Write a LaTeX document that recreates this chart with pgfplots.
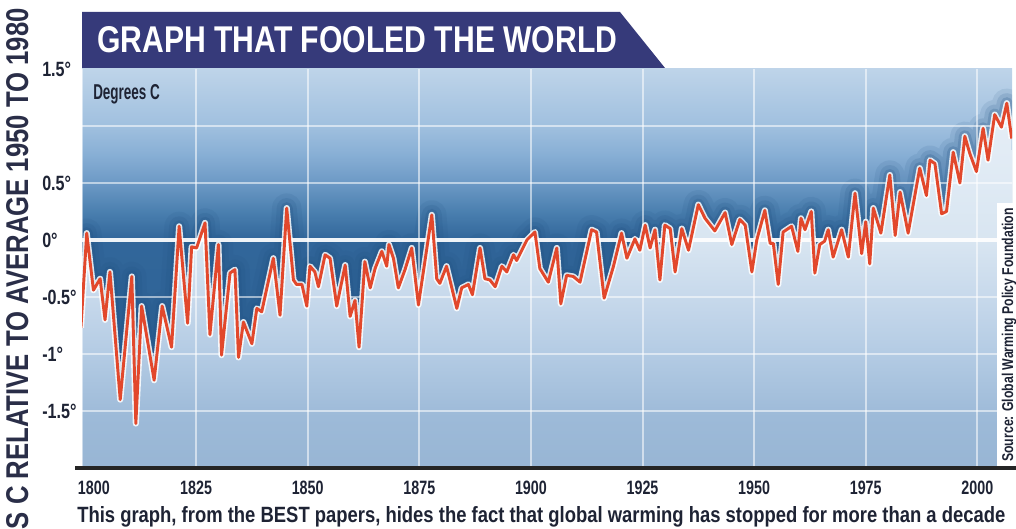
\documentclass[border=0pt]{standalone}
\usepackage{pgfplots}
\pgfplotsset{compat=1.18}
\usepackage{pgfplotstable}
\usepackage{graphicx}
\usepackage{fontspec}
\setmainfont{Liberation Sans}

\definecolor{banner}{HTML}{363A7A}
\definecolor{ink}{HTML}{1E2334}
\definecolor{ytitle}{HTML}{2A2E48}
\definecolor{redline}{HTML}{E2482C}
\definecolor{glow}{HTML}{1F4F80}
\definecolor{axisline}{HTML}{252525}
\definecolor{bgA}{HTML}{2D6293}
\definecolor{bgB}{HTML}{31669A}
\definecolor{bgC}{HTML}{4A7FAF}
\definecolor{bgD}{HTML}{6C99C5}
\definecolor{bgE}{HTML}{88AFD5}
\definecolor{bgF}{HTML}{A0C0DF}
\definecolor{bgG}{HTML}{BED4E9}
\definecolor{uA}{HTML}{97B5D4}
\definecolor{uB}{HTML}{9DBAD8}
\definecolor{uC}{HTML}{B2CAE3}
\definecolor{uD}{HTML}{C6D8EB}
\definecolor{uE}{HTML}{D8E5F1}
\definecolor{uF}{HTML}{DFEAF4}
\definecolor{uG}{HTML}{E6EEF6}

\pgfdeclareverticalshading{bgshade}{100bp}{color(0bp)=(bgA); color(25bp)=(bgA); color(53.6bp)=(bgB); color(57.1bp)=(bgC); color(60.7bp)=(bgD); color(64.3bp)=(bgE); color(67.9bp)=(bgF); color(75bp)=(bgG); color(100bp)=(bgG)}
\pgfdeclareverticalshading{undershade}{100bp}{color(0bp)=(uA); color(25bp)=(uA); color(32.8bp)=(uB); color(40.6bp)=(uC); color(48.4bp)=(uD); color(56.25bp)=(uE); color(64.1bp)=(uF); color(75bp)=(uG); color(100bp)=(uG)}

\newcommand\xl[1]{\scalebox{0.74}[1]{#1}}
\newcommand\yl[1]{\scalebox{0.78}[1]{#1}}

\pgfplotstableread{
year anom
1799.2 -0.77
1800.5 0.06
1802.0 -0.44
1803.5 -0.34
1804.6 -0.70
1805.7 -0.28
1808.0 -1.40
1810.6 -0.32
1811.5 -1.61
1812.8 -0.58
1815.6 -1.23
1817.4 -0.58
1819.5 -0.94
1821.2 0.12
1823.1 -0.73
1824.0 -0.06
1825.1 -0.07
1827.0 0.15
1828.1 -0.83
1830.0 -0.04
1830.7 -1.01
1832.6 -0.29
1833.7 -0.26
1834.5 -1.03
1835.6 -0.72
1837.5 -0.91
1838.6 -0.60
1839.7 -0.63
1842.3 -0.16
1843.8 -0.66
1845.3 0.28
1846.8 -0.35
1847.5 -0.39
1848.7 -0.39
1849.8 -0.58
1850.5 -0.23
1851.6 -0.28
1852.4 -0.41
1853.9 -0.13
1855.0 -0.16
1856.5 -0.58
1858.4 -0.22
1859.5 -0.67
1860.6 -0.53
1861.5 -0.94
1862.8 -0.19
1864.0 -0.42
1865.1 -0.25
1866.6 -0.10
1867.7 -0.23
1868.2 -0.04
1869.2 -0.16
1870.3 -0.42
1871.8 -0.26
1873.3 -0.07
1874.8 -0.57
1877.8 0.22
1878.9 -0.34
1879.6 -0.38
1881.1 -0.23
1883.4 -0.60
1884.5 -0.42
1886.0 -0.39
1886.9 -0.48
1888.6 -0.07
1889.7 -0.34
1890.8 -0.35
1892.0 -0.41
1893.5 -0.23
1894.6 -0.28
1896.1 -0.13
1896.8 -0.18
1899.1 0.00
1900.9 0.07
1902.0 -0.25
1903.9 -0.37
1905.8 -0.07
1906.7 -0.56
1908.0 -0.31
1909.5 -0.32
1911.0 -0.37
1913.6 0.09
1914.7 0.07
1916.4 -0.51
1918.5 -0.23
1920.3 0.06
1921.5 -0.16
1923.3 0.01
1924.4 -0.09
1925.6 0.13
1926.7 -0.07
1927.8 0.09
1928.9 -0.35
1930.0 0.13
1931.2 0.10
1932.3 -0.28
1933.8 0.10
1935.3 -0.09
1937.5 0.31
1939.0 0.19
1941.2 0.08
1943.5 0.24
1945.0 -0.04
1946.8 0.18
1948.0 0.13
1949.5 -0.28
1950.6 0.00
1952.4 0.26
1953.6 -0.03
1954.3 -0.03
1955.4 -0.39
1956.5 0.07
1958.4 0.12
1959.8 -0.10
1960.5 0.19
1961.4 0.09
1962.8 0.25
1963.6 -0.29
1964.7 -0.04
1965.8 -0.01
1966.6 0.09
1967.7 -0.15
1969.6 0.09
1971.1 -0.15
1972.6 0.41
1974.1 -0.12
1975.0 0.16
1975.9 -0.21
1976.7 0.28
1978.4 0.06
1980.4 0.57
1981.6 0.04
1982.7 0.42
1984.5 0.06
1987.1 0.63
1988.6 0.39
1989.4 0.70
1990.5 0.67
1992.0 0.23
1993.1 0.25
1994.6 0.77
1996.1 0.50
1997.2 0.91
1998.3 0.76
1999.8 0.60
2001.3 0.98
2002.4 0.70
2003.9 1.10
2005.4 0.99
2006.6 1.20
2007.7 0.89
}\tempdata

\begin{document}
\begin{tikzpicture}
\path[use as bounding box] (0,0) rectangle (762pt,396pt);
\begin{axis}[
  at={(61.5pt,45pt)}, anchor=south west,
  width=697.5pt, height=299.25pt, scale only axis,
  xmin=1799.44, xmax=2007.77, ymin=-2, ymax=1.5,
  axis line style={draw=none},
  tick style={draw=none},
  axis background/.style={shading=bgshade},
  xtick={1800,1825,1850,1875,1900,1925,1950,1975,2000},
  xticklabels={\hspace*{14pt}\xl{1800},\xl{1825},\xl{1850},\xl{1875},\xl{1900},\xl{1925},\xl{1950},\xl{1975},\xl{2000}},
  xticklabel style={font=\fontsize{14.5}{15}\selectfont\bfseries, text=ink, yshift=-6.5pt},
  ytick={-1.5,-1,-0.5,0,0.5,1.5},
  yticklabels={\yl{-1.5°},\yl{-1°},\yl{-0.5°},\yl{0°},\yl{0.5°},\yl{1.5°}},
  yticklabel style={font=\fontsize{15.5}{16}\selectfont\bfseries, text=ink, anchor=west, inner sep=0pt, xshift=-30pt},
  clip=true,
]
% soft dark glow above the line
\addplot[draw=glow, opacity=0.10, line width=22pt, line join=round] table[x=year,y=anom] {\tempdata};
\addplot[draw=glow, opacity=0.14, line width=15pt, line join=round] table[x=year,y=anom] {\tempdata};
\addplot[draw=glow, opacity=0.22, line width=9pt, line join=round] table[x=year,y=anom] {\tempdata};
% light area below the line
\addplot[draw=none, shading=undershade] table[x=year,y=anom] {\tempdata} -- (axis cs:2008,-2.05) -- (axis cs:1799,-2.05) -- cycle;
% grid
\pgfplotsinvokeforeach{1825,1850,1875,1900,1925,1950,1975,2000}{
  \draw[white, opacity=0.55, line width=1.5pt] (axis cs:#1,-2) -- (axis cs:#1,1.5);
}
\pgfplotsinvokeforeach{-1.5,-1,-0.5,0.5,1}{
  \draw[white, opacity=0.55, line width=1.5pt] (axis cs:1799,#1) -- (axis cs:2008,#1);
}
\draw[white, opacity=0.92, line width=2.6pt] (axis cs:1799,0) -- (axis cs:2008,0);
\draw[white, opacity=0.5, line width=1.2pt] (axis cs:1799.5,-2) -- (axis cs:1799.5,1.5);
% the series
\addplot[draw=white, opacity=0.85, line width=4.6pt, line join=round] table[x=year,y=anom] {\tempdata};
\addplot[draw=redline, line width=2.2pt, line join=round] table[x=year,y=anom] {\tempdata};
\end{axis}
% bottom axis line
\draw[axisline, line width=2.3pt] (56.25pt,45pt) -- (762pt,45pt);
% banner
\fill[banner] (61.5pt,387pt) -- (465pt,387pt) -- (498.75pt,345pt) -- (61.5pt,345pt) -- cycle;
\node[anchor=base west, inner sep=0pt, text=white] at (72.75pt,356.25pt)
  {\resizebox{390pt}{19.5pt}{\bfseries GRAPH THAT FOOLED THE WORLD}};
% Degrees C
\node[anchor=base west, inner sep=0pt, text=ink] at (69.75pt,321pt)
  {\resizebox{50pt}{11.25pt}{\bfseries Degrees C}};
% source box
\fill[white] (747.75pt,46.5pt) rectangle (762pt,243.75pt);
\node[rotate=90, anchor=base west, inner sep=0pt, text=ink] at (759.75pt,49.5pt)
  {\resizebox{190pt}{8.5pt}{\bfseries Source: Global Warming Policy Foundation}};
% caption
\node[anchor=base west, inner sep=0pt, text=ink] at (57.75pt,4.5pt)
  {\resizebox{696pt}{12pt}{\bfseries This graph, from the BEST papers, hides the fact that global warming has stopped for more than a decade}};
% y title (cut at the page edge, as in the original)
\begin{scope}
\clip (0,0) rectangle (762pt,396pt);
\node[rotate=90, anchor=base east, inner sep=0pt, text=ytitle] at (21pt,390pt)
  {\resizebox{472pt}{16.5pt}{\bfseries DEGREES C RELATIVE TO AVERAGE 1950 TO 1980}};
\end{scope}
\end{tikzpicture}
\end{document}
